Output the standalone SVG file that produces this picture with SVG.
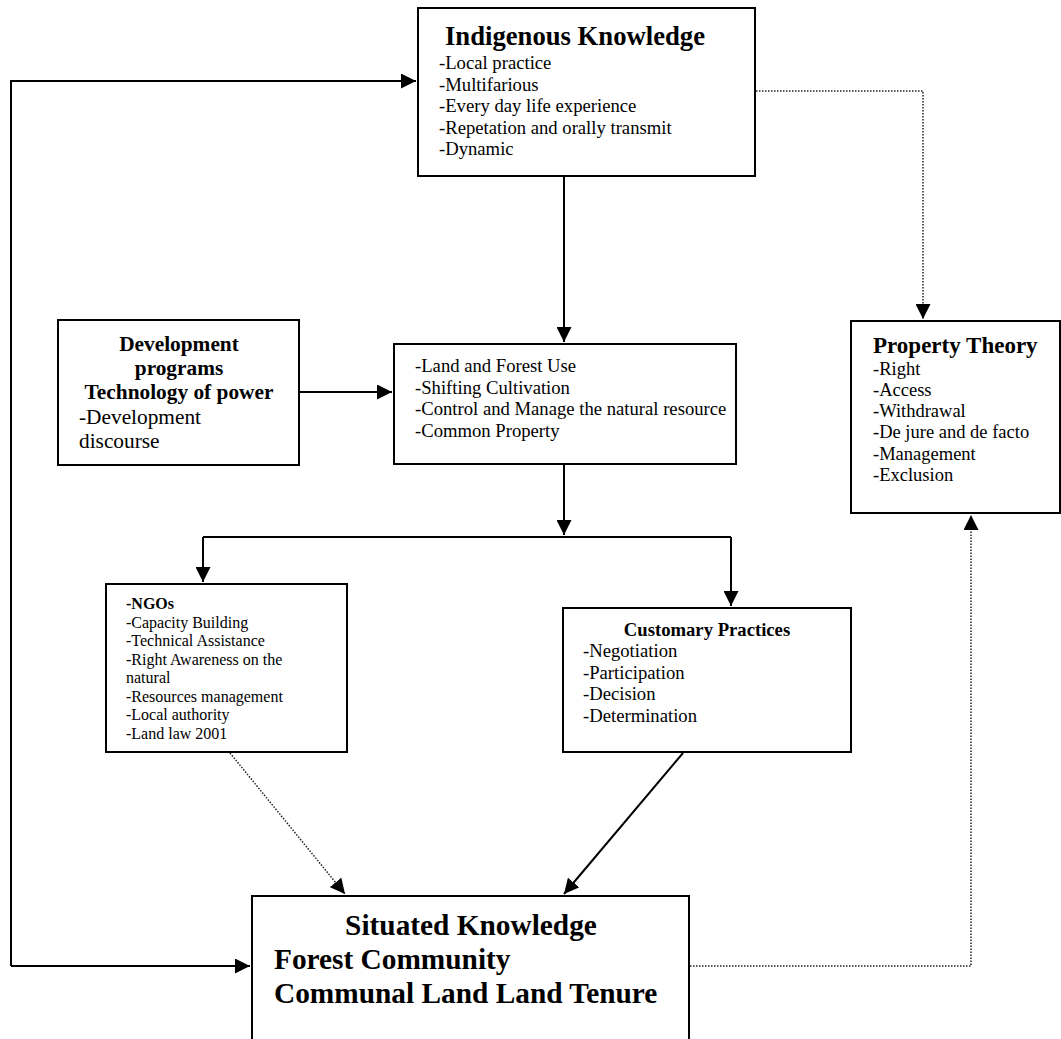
<svg xmlns="http://www.w3.org/2000/svg" width="1061" height="1039" viewBox="0 0 1061 1039">
  <defs>
    <marker id="arrow" markerUnits="userSpaceOnUse" markerWidth="15" markerHeight="15" viewBox="0 0 15 15" refX="15" refY="7.5" orient="auto">
      <path d="M0,0 L15,7.5 L0,15 Z" fill="#000"/>
    </marker>
    <style>
      .box { fill: #fff; stroke: #000; stroke-width: 2; }
      .t { font-family: "Liberation Serif", "Times New Roman", serif; fill: #000; }
      .b { font-weight: bold; }
      .solid { fill: none; stroke: #000; stroke-width: 2; }
      .dot { fill: none; stroke: #222; stroke-width: 1.5; stroke-dasharray: 1.5 1.5; }
    </style>
  </defs>

  <!-- connectors -->
  <g id="connectors">
    <!-- left feedback loop -->
    <path class="solid" d="M11,966 L11,81 L416,81" marker-end="url(#arrow)"/>
    <path class="solid" d="M11,966 L250,966" marker-end="url(#arrow)"/>
    <!-- indigenous knowledge to land use -->
    <path class="solid" d="M564,176 L564,342" marker-end="url(#arrow)"/>
    <!-- development programs to land use -->
    <path class="solid" d="M299,392 L392,392" marker-end="url(#arrow)"/>
    <!-- land use split -->
    <path class="solid" d="M564,464 L564,535" marker-end="url(#arrow)"/>
    <path class="solid" d="M203,537 L731,537"/>
    <path class="solid" d="M203,537 L203,582" marker-end="url(#arrow)"/>
    <path class="solid" d="M731,537 L731,606" marker-end="url(#arrow)"/>
    <!-- NGOs and customary practices to situated knowledge -->
    <path class="dot" d="M230,753 L345,894" marker-end="url(#arrow)"/>
    <path class="solid" d="M683,753 L564,894" marker-end="url(#arrow)"/>
    <!-- links to property theory -->
    <path class="dot" d="M756,91 L923,91 L923,319" marker-end="url(#arrow)"/>
    <path class="dot" d="M690,966 L971,966 L971,515" marker-end="url(#arrow)"/>
  </g>

  <g id="indigenous-knowledge">
    <rect class="box" x="418" y="8" width="337" height="168"/>
    <text class="t b" x="445" y="45" font-size="26.67">Indigenous Knowledge</text>
    <g class="t" font-size="18.67">
      <text x="439" y="69">-Local practice</text>
      <text x="439" y="90.5">-Multifarious</text>
      <text x="439" y="112">-Every day life experience</text>
      <text x="439" y="133.5">-Repetation and orally transmit</text>
      <text x="439" y="155">-Dynamic</text>
    </g>
  </g>

  <g id="property-theory">
    <rect class="box" x="851" y="321" width="209" height="192"/>
    <text class="t b" x="873" y="353" font-size="23">Property Theory</text>
    <g class="t" font-size="18.5">
      <text x="873" y="375">-Right</text>
      <text x="873" y="396">-Access</text>
      <text x="873" y="417">-Withdrawal</text>
      <text x="873" y="438">-De jure and de facto</text>
      <text x="873" y="460">-Management</text>
      <text x="873" y="481">-Exclusion</text>
    </g>
  </g>

  <g id="development-programs">
    <rect class="box" x="58" y="320" width="241" height="145"/>
    <g class="t b" font-size="21.33" text-anchor="middle">
      <text x="179" y="351">Development</text>
      <text x="179" y="375">programs</text>
      <text x="179" y="399">Technology of power</text>
    </g>
    <g class="t" font-size="21.33">
      <text x="79" y="424">-Development</text>
      <text x="79" y="448">discourse</text>
    </g>
  </g>

  <g id="land-forest-use">
    <rect class="box" x="394" y="344" width="342" height="120"/>
    <g class="t" font-size="18.67">
      <text x="415" y="372">-Land and Forest Use</text>
      <text x="415" y="393.5">-Shifting Cultivation</text>
      <text x="415" y="415">-Control and Manage the natural resource</text>
      <text x="415" y="436.5">-Common Property</text>
    </g>
  </g>

  <g id="ngos">
    <rect class="box" x="106" y="584" width="241" height="168"/>
    <g class="t" font-size="16">
      <text class="b" x="126" y="609">-NGOs</text>
      <text x="126" y="627.5">-Capacity Building</text>
      <text x="126" y="646">-Technical Assistance</text>
      <text x="126" y="664.5">-Right Awareness on the</text>
      <text x="126" y="683">natural</text>
      <text x="126" y="701.5">-Resources management</text>
      <text x="126" y="720">-Local authority</text>
      <text x="126" y="738.5">-Land law 2001</text>
    </g>
  </g>

  <g id="customary-practices">
    <rect class="box" x="563" y="608" width="288" height="144"/>
    <text class="t b" x="707" y="636" font-size="18.67" text-anchor="middle">Customary Practices</text>
    <g class="t" font-size="18.67">
      <text x="583" y="657">-Negotiation</text>
      <text x="583" y="678.5">-Participation</text>
      <text x="583" y="700">-Decision</text>
      <text x="583" y="721.5">-Determination</text>
    </g>
  </g>

  <g id="situated-knowledge">
    <path class="box" d="M252,1045 L252,896 L689,896 L689,1045"/>
    <g class="t b" font-size="29.33">
      <text x="471" y="935" text-anchor="middle">Situated Knowledge</text>
      <text x="274" y="969">Forest Community</text>
      <text x="274" y="1003">Communal Land Land Tenure</text>
    </g>
  </g>
</svg>
